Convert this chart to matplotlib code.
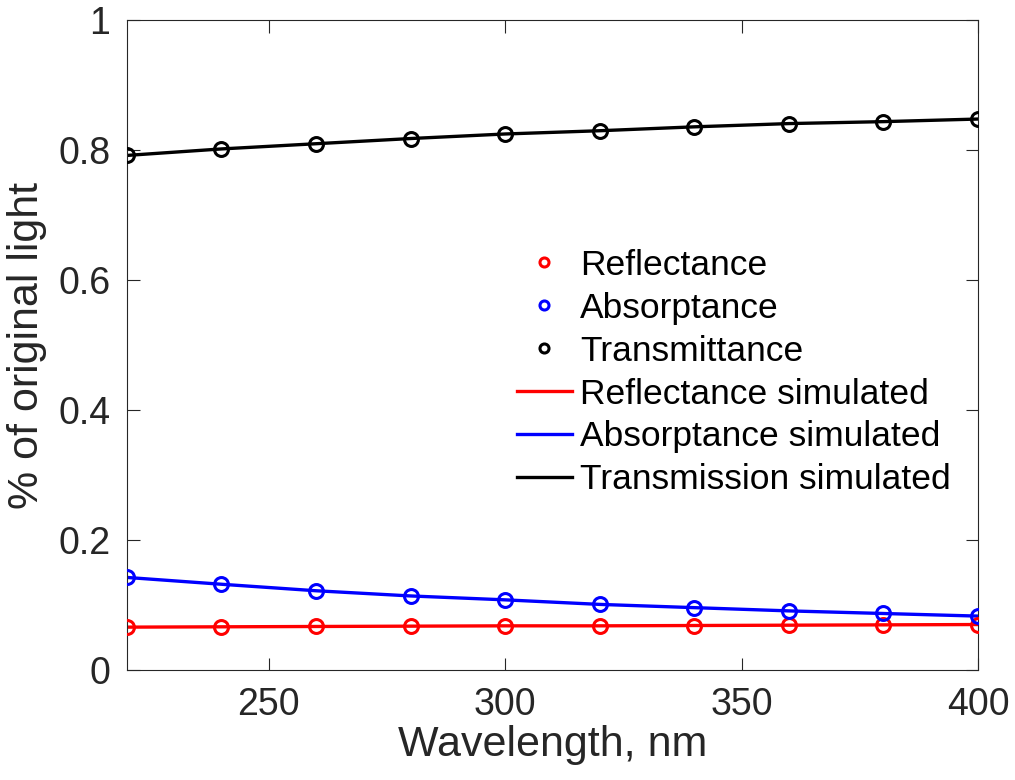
import numpy as np
import matplotlib
matplotlib.use("Agg")
import matplotlib.pyplot as plt

# ── Data ────────────────────────────────────────────────────
wavelength = [220, 240, 260, 280, 300, 320, 340, 360, 380, 400]

reflectance   = [0.066, 0.0665, 0.067, 0.0675, 0.068, 0.068, 0.0685, 0.069, 0.0695, 0.070]
absorptance   = [0.1425, 0.132, 0.122, 0.114, 0.108, 0.101, 0.096, 0.091, 0.087, 0.083]
transmittance = [0.792, 0.802, 0.810, 0.818, 0.825, 0.830, 0.836, 0.841, 0.844, 0.848]

refl_sim  = reflectance
absp_sim  = absorptance
trans_sim = transmittance

xticks = [250, 300, 350, 400]
yticks = [0, 0.2, 0.4, 0.6, 0.8, 1]
ytick_labels = ["0", "0.2", "0.4", "0.6", "0.8", "1"]

# ── Style ───────────────────────────────────────────────────
plt.rcParams["font.family"] = ["Liberation Sans", "DejaVu Sans"]
txt = "#262626"

fig = plt.figure(figsize=(10.15, 7.8), dpi=100)
ax = fig.add_axes([0.125, 0.141, 0.8385, 0.833])

mk = dict(linestyle="none", marker="o", markersize=10,
          markerfacecolor="none", markeredgewidth=2.2)
ax.plot(wavelength, reflectance, color="red", label="Reflectance", zorder=3, **mk)
ax.plot(wavelength, absorptance, color="blue", label="Absorptance", zorder=3, **mk)
ax.plot(wavelength, transmittance, color="black", label="Transmittance", zorder=3, **mk)

ax.plot(wavelength, refl_sim, color="red", lw=2.4, label="Reflectance simulated")
ax.plot(wavelength, absp_sim, color="blue", lw=2.4, label="Absorptance simulated")
ax.plot(wavelength, trans_sim, color="black", lw=2.4, label="Transmission simulated")

ax.set_xlim(220, 400)
ax.set_ylim(0, 1)
ax.set_xticks(xticks)
ax.set_yticks(yticks)
ax.set_yticklabels(ytick_labels)

ax.tick_params(direction="in", length=9, width=0.8, top=True, right=True,
               labelsize=27, labelcolor=txt, color=txt)
ax.tick_params(axis="x", pad=12)
ax.tick_params(axis="y", pad=12)
for s in ax.spines.values():
    s.set_linewidth(0.8)
    s.set_color(txt)

ax.set_xlabel("Wavelength, nm", fontsize=31, color=txt, labelpad=2)
ax.set_ylabel("% of original light", fontsize=31, color=txt, labelpad=8)

leg = ax.legend(loc="upper left", bbox_to_anchor=(0.509, 0.681),
                bbox_transform=fig.transFigure, frameon=False,
                fontsize=25.5, handlelength=1.55, handletextpad=0.25,
                labelspacing=0.28, markerscale=0.65, borderpad=0,
                borderaxespad=0)

fig.savefig("out.png", dpi=100)
